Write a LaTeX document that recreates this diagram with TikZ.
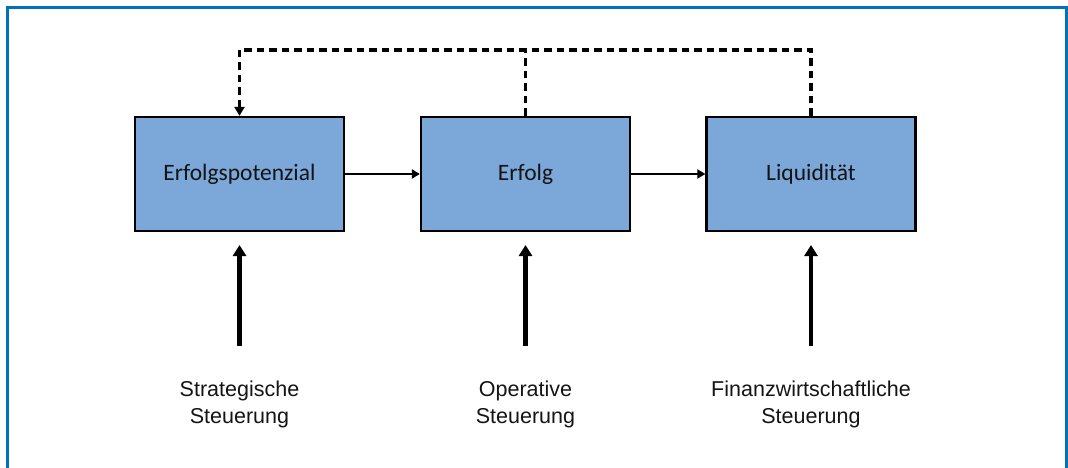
\documentclass[tikz,border=0pt]{standalone}
\usepackage{fontspec}
\setmainfont{Liberation Sans}
\newfontfamily\boxfont{Carlito}
\usetikzlibrary{arrows.meta}
\definecolor{framecol}{RGB}{0,114,188}
\definecolor{boxfill}{RGB}{123,167,217}
\definecolor{txt}{RGB}{20,20,20}
\tikzset{
  x=1pt, y=-1pt,
  blockbox/.style={draw=black, line width=2.3pt, fill=boxfill, minimum width=209pt, minimum height=114pt, inner sep=0pt, font=\boxfont\fontsize{23.5}{28}\selectfont, text=txt},
  flow/.style={line width=2pt, -{Triangle[length=8pt,width=9pt]}},
  feedback/.style={line width=3.2pt, dash pattern=on 7.5pt off 5pt},
  drive/.style={line width=4.4pt, -{Triangle[length=11pt,width=13pt]}},
  lbl/.style={align=center, font=\fontsize{21.5}{27}\selectfont, text=txt, inner sep=0pt}
}
\begin{document}
\begin{tikzpicture}
\useasboundingbox (0,0) rectangle (1068,468);
\draw[framecol, line width=3pt] (7,470) -- (7,8) -- (1066,8) -- (1066,470);

\node[blockbox] (b1) at (239.5,174) {Erfolgspotenzial};
\node[blockbox] (b2) at (525.5,174) {Erfolg};
\node[blockbox] (b3) at (811,174) {Liquidität};

\draw[flow] (b1.east) -- (b2.west);
\draw[flow] (b2.east) -- (b3.west);

\coordinate (t1) at (239.5,50);
\coordinate (t2) at (525.5,50);
\coordinate (t3) at (811,50);
\draw[feedback] (b3.north) -- (t3) -- (t1);
\draw[feedback] (b2.north) -- (t2);
\draw[feedback, -{Triangle[length=9pt,width=10pt]}] (t1) -- (b1.north);

\node[lbl] (l1) at (239.5,404) {Strategische\\Steuerung};
\node[lbl] (l2) at (525.5,404) {Operative\\Steuerung};
\node[lbl] (l3) at (811,404) {Finanzwirtschaftliche\\Steuerung};

\coordinate (s1) at (239.5,346);
\coordinate (s2) at (525.5,346);
\coordinate (s3) at (811,346);
\coordinate (e1) at (239.5,245);
\coordinate (e2) at (525.5,245);
\coordinate (e3) at (811,245);
\draw[drive] (s1) -- (e1);
\draw[drive] (s2) -- (e2);
\draw[drive] (s3) -- (e3);
\end{tikzpicture}
\end{document}
